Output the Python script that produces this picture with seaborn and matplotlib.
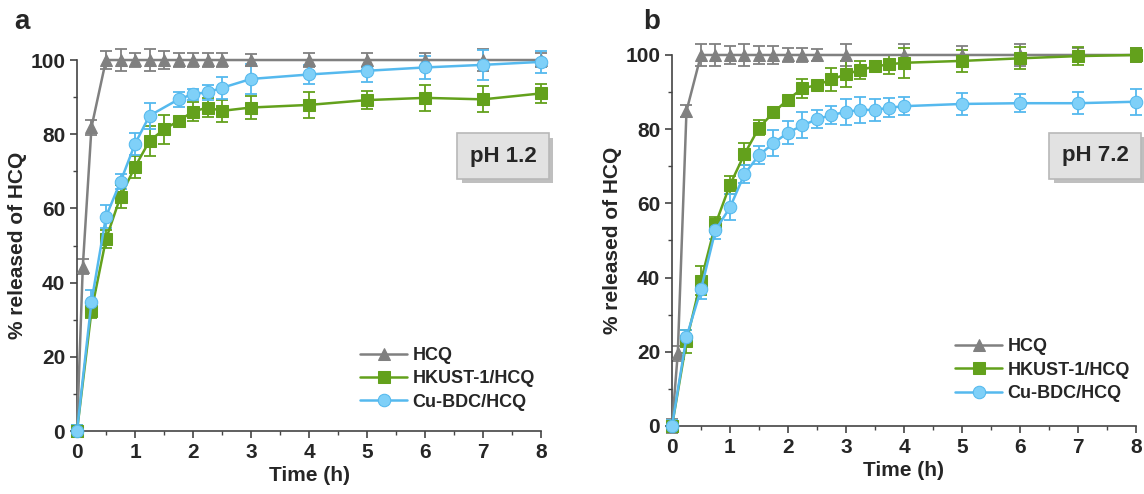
import matplotlib
matplotlib.use('Agg')
import matplotlib.pyplot as plt
import matplotlib.patheffects as pe
import numpy as np
import seaborn as sns

# ---- data ----
t_hcq = [0, 0.1, 0.25, 0.5, 0.75, 1, 1.25, 1.5, 1.75, 2, 2.25, 2.5, 3, 4, 5, 6, 7, 8]

# panel a, pH 1.2
a_hcq = [0, 44.3, 81.9, 100, 100, 100, 100, 100, 100, 100, 100, 100, 100, 100, 100, 100, 100, 100]
a_hcq_err = [1.5, 2, 2, 2.5, 3, 2, 3, 2.5, 2, 2, 2, 2, 1.5, 2, 2, 2, 3, 2]

t_a_hk = [0, 0.25, 0.5, 0.75, 1, 1.25, 1.5, 1.75, 2, 2.25, 2.5, 3, 4, 5, 6, 7, 8]
a_hk = [0, 32.4, 51.7, 63.2, 71.2, 78.2, 81.3, 83.6, 86.1, 87.2, 86.3, 87.2, 87.9, 89.2, 89.8, 89.4, 91.0]
a_hk_err = [1.5, 2, 2.5, 3, 3, 4, 4, 1, 2.5, 2.5, 3, 3, 3.5, 2.5, 3.5, 3.5, 2.5]

t_a_cu = [0, 0.25, 0.5, 0.75, 1, 1.25, 1.75, 2, 2.25, 2.5, 3, 4, 5, 6, 7, 8]
a_cu = [0, 34.9, 57.8, 67.2, 77.4, 85.0, 89.4, 90.8, 91.3, 92.5, 94.9, 96.1, 97.1, 98.0, 98.7, 99.5]
a_cu_err = [1.5, 3, 3, 2, 3, 3.5, 2, 1.5, 2, 3, 4, 2.5, 3, 3, 4, 3]

# panel b, pH 7.2
b_hcq = [0, 19.6, 84.9, 100, 100, 100, 100, 100, 100, 100, 100, 100, 100, 100, 100, 100, 100, 100]
b_hcq_err = [2, 2, 1.5, 3, 3, 2.5, 3, 2.5, 2.5, 2, 2, 1.5, 3, 3, 2.5, 3, 2, 2]

t_b = [0, 0.25, 0.5, 0.75, 1, 1.25, 1.5, 1.75, 2, 2.25, 2.5, 2.75, 3, 3.25, 3.5, 3.75, 4, 5, 6, 7, 8]
b_hk = [0, 22.8, 39.2, 54.4, 65.0, 73.3, 80.4, 84.5, 88.0, 91.0, 91.9, 93.4, 94.8, 96.0, 96.9, 97.5, 97.9, 98.4, 99.1, 99.7, 100]
b_hk_err = [1.5, 3, 4, 2, 2.5, 3, 2, 1, 1, 2.5, 1, 3, 3.5, 2.5, 1.5, 2.5, 4, 3, 3, 2.5, 2]
b_cu = [0, 24.0, 36.8, 52.8, 58.9, 67.9, 73.0, 76.2, 79.1, 81.0, 82.7, 83.8, 84.7, 85.2, 85.2, 85.8, 86.2, 86.8, 87.0, 87.0, 87.4]
b_cu_err = [1.5, 2, 2.5, 2.5, 3.5, 2.5, 2.5, 3.5, 3, 3.5, 2.5, 2.5, 3.5, 3.5, 3, 2.5, 2.5, 3, 2.5, 3, 3.5]

grey = '#808080'
green = '#63a11c'
blue = '#55b9ee'

sns.set_style('ticks')
plt.rcParams['font.family'] = ['Liberation Sans', 'DejaVu Sans']
plt.rcParams['font.weight'] = 'bold'

fig = plt.figure(figsize=(11.44, 4.94), dpi=100)
ax_a = fig.add_axes([0.0673, 0.1275, 0.4057, 0.751])
ax_b = fig.add_axes([0.5874, 0.1377, 0.4056, 0.751])


def draw_series(ax, t, y, err, color, marker, ms, label, mfc=None):
    ax.errorbar(t, y, yerr=err, fmt='none', ecolor=color, elinewidth=1.3,
                capsize=4, capthick=1.3, clip_on=False, zorder=2)
    sns.lineplot(x=t, y=y, ax=ax, color=color, marker=marker, markersize=ms,
                 markeredgecolor=color, markerfacecolor=mfc or color,
                 linewidth=1.8, label=label, clip_on=False, zorder=3,
                 estimator=None, sort=False)


def style_axes(ax, ph, box_xy, leg_anchor):
    ax.set_xlim(0, 8)
    ax.set_ylim(0, 100)
    ax.set_xticks(range(0, 9))
    ax.set_xticks(np.arange(0, 8.01, 0.5), minor=True)
    ax.set_yticks(range(0, 101, 20))
    ax.set_yticks(range(0, 101, 10), minor=True)
    ax.tick_params(which='major', length=5, width=1.2, labelsize=15, color='#444444')
    ax.tick_params(which='minor', length=3, width=1.0, color='#444444')
    for lab in ax.get_xticklabels() + ax.get_yticklabels():
        lab.set_fontweight('bold')
    sns.despine(ax=ax)
    for s in ['left', 'bottom']:
        ax.spines[s].set_color('#444444')
        ax.spines[s].set_linewidth(1.2)
    ax.set_xlabel('Time (h)', fontsize=15, fontweight='bold', labelpad=3)
    ax.set_ylabel('% released of HCQ', fontsize=15, fontweight='bold', labelpad=2)

    # pH label box with a soft drop shadow
    box = ax.text(box_xy[0], box_xy[1], ph, transform=ax.transAxes, fontsize=16,
                  fontweight='bold', ha='center', va='center', zorder=5,
                  bbox=dict(boxstyle='square,pad=0.55', fc='#e2e2e2', ec='#b8b8b8', lw=1.2))
    box.get_bbox_patch().set_path_effects(
        [pe.SimplePatchShadow(offset=(3, -3), shadow_rgbFace='#b0b0b0', alpha=0.8), pe.Normal()])

    leg = ax.legend(loc='lower left', bbox_to_anchor=leg_anchor, frameon=False,
                    fontsize=13, handlelength=2.6, handletextpad=0.3,
                    labelspacing=0.35, borderpad=0, borderaxespad=0)
    for txt in leg.get_texts():
        txt.set_fontweight('bold')


draw_series(ax_a, t_hcq, a_hcq, a_hcq_err, grey, '^', 9, 'HCQ')
draw_series(ax_a, t_a_hk, a_hk, a_hk_err, green, 's', 8, 'HKUST-1/HCQ')
draw_series(ax_a, t_a_cu, a_cu, a_cu_err, blue, 'o', 9, 'Cu-BDC/HCQ', mfc='#7fd0f8')
style_axes(ax_a, 'pH 1.2', (0.918, 0.741), (0.61, 0.055))

draw_series(ax_b, t_hcq, b_hcq, b_hcq_err, grey, '^', 9, 'HCQ')
draw_series(ax_b, t_b, b_hk, b_hk_err, green, 's', 8, 'HKUST-1/HCQ')
draw_series(ax_b, t_b, b_cu, b_cu_err, blue, 'o', 9, 'Cu-BDC/HCQ', mfc='#7fd0f8')
style_axes(ax_b, 'pH 7.2', (0.912, 0.728), (0.61, 0.065))

fig.text(0.019, 0.955, 'a', fontsize=20, fontweight='bold', ha='center', va='center')
fig.text(0.57, 0.955, 'b', fontsize=20, fontweight='bold', ha='center', va='center')

fig.savefig('out.png', dpi=100)
